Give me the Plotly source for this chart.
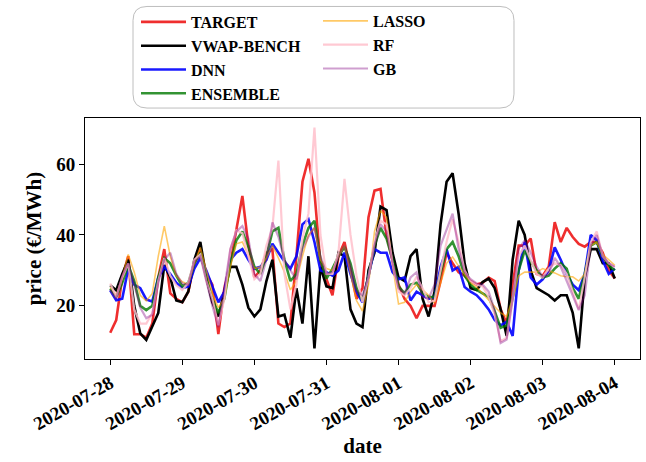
import plotly.graph_objects as go
import pandas as pd

# time grid (2-hourly) from 2020-07-28 00:00 to 2020-08-04 00:00
hours = list(range(0, 169, 2))
times = [pd.Timestamp("2020-07-28") + pd.Timedelta(hours=h) for h in hours]

target = [12.4, 16, 28, 34, 12, 12, 11, 15, 28, 36, 23.5, 22, 21, 24, 32, 36, 29, 26, 12, 25,
          32, 41, 51, 37, 28, 30, 35, 36, 15, 14, 15, 34, 55, 61.5, 52, 32, 27.5, 23, 34, 38,
          30, 22, 25, 45, 52.5, 53, 40, 33, 26, 22, 20, 16.5, 20, 20, 20, 27, 35, 32, 29.5, 28.5,
          27, 26, 26.5, 28, 27, 19, 15, 26, 37, 37, 39, 29, 28.5, 31, 43.6, 38, 42, 39.4, 37.5, 36.7,
          38, 38, 35, 30, 27.7]
vwap = [25.8, 24.4, 29, 33, 20, 12.2, 10.4, 14, 18, 31.5, 28, 21.5, 21, 24, 33, 38, 28, 21, 17, 24,
        31, 31, 26, 19.5, 17, 19, 27, 33, 17, 17.5, 11, 25, 15, 34, 8, 31, 25.5, 25, 35, 34,
        19, 15, 14, 30, 35, 48, 47, 35, 28, 27, 34, 36, 22, 17, 24, 43, 55, 57.4, 46, 32,
        25, 24.5, 26.7, 27.7, 25, 19, 11.5, 33, 44, 40, 30, 25, 24, 23, 21.5, 23, 23, 18, 8, 28,
        36, 36, 32, 32, 27.7]
dnn = [24.4, 21.6, 22, 30.5, 26, 25, 21.8, 21.2, 28, 31, 29, 26.5, 25, 25.5, 30.5, 33.5, 30, 25.5, 21, 24,
       33, 35, 36, 33, 30.5, 31, 33, 37.5, 35, 32.5, 30.5, 34, 43, 44.5, 38, 30, 29.5, 28.5, 30, 35,
       29, 24, 21, 29, 36, 35, 35, 29.5, 27.5, 28, 21.5, 24, 23, 22, 22.5, 31, 36, 30, 31, 25.3,
       24, 23, 21.2, 19, 16, 14.5, 15.5, 11.5, 30, 38, 28, 26, 27.5, 30, 36.5, 33, 29, 26, 24.4, 29,
       40, 38.5, 32.8, 29, 30.5]
ensemble = [24.9, 22.5, 26.5, 31.5, 27, 20, 18.8, 20, 28, 33.5, 32, 28.5, 25.5, 26.5, 32, 35, 28, 22, 18, 22,
            32, 38.5, 41, 36.6, 31, 29, 34, 41, 42, 33, 27, 29, 37, 42, 44, 33, 27.7, 30.5, 34, 36.6,
            32, 25, 21.5, 28.5, 37, 42, 39, 33, 25.5, 23.5, 26, 26.5, 23.5, 22.5, 22.5, 29, 36, 38, 34, 28.5,
            26, 24.5, 23.5, 22.5, 18.5, 13.8, 14.5, 22, 30, 35.6, 32.5, 30, 28, 28.5, 30.5, 32, 30.5, 25, 22, 29,
            37, 38, 34, 31.5, 30]
lasso = [25.3, 23, 28, 34.5, 29.5, 23, 21.4, 23.5, 34, 42.5, 34, 28.5, 26.8, 26, 32, 36.5, 30, 23.5, 19.5, 22,
         31, 37.5, 38, 34, 30.5, 31, 33.5, 37, 33.5, 29.5, 24.5, 27, 34, 40, 42, 33, 30.5, 30, 34, 37,
         29, 21.5, 18.5, 26, 41, 46.9, 45, 31.5, 20.5, 21, 24, 26, 24.5, 23, 20.8, 26.5, 32, 33.8, 31.2, 29,
         26.5, 25.3, 23.5, 21.8, 20, 18, 17, 22, 28.5, 29.5, 29.5, 29.5, 30.5, 30, 29.3, 28.5, 28.2, 28.2, 27, 29,
         37, 38, 34.5, 33, 31.4]
rf = [26.3, 22.5, 28, 32, 19, 15, 15, 18, 27, 33.5, 28.5, 25.8, 24.5, 26.5, 33, 34.5, 27, 22, 14.5, 22,
      36, 41.3, 40.5, 34, 27.5, 29, 37, 42, 61, 29, 19, 26, 39, 46, 70.3, 40, 29, 29, 35, 55.8,
      40, 28.5, 21, 28, 38, 44, 43, 32, 24, 23, 25, 28.2, 25, 21, 21.5, 30, 38, 44.5, 38, 30,
      27, 26, 25.5, 22.5, 17.5, 10, 11, 22, 34, 37, 33, 29, 28, 30.5, 32, 31.5, 29, 24, 19, 28,
      38, 41, 34, 32, 31]
gb = [24.4, 22, 28.5, 32, 26, 19.5, 16.5, 17.5, 26.5, 33, 35, 29, 26.3, 26, 32.5, 34, 27, 20, 14, 25,
      36, 41, 42.5, 39, 29, 27, 33, 43.5, 39.5, 33, 30, 27.5, 36, 39.5, 42, 34, 29, 29.5, 33.8, 37,
      31, 24, 23, 28, 37, 43, 41, 32, 25, 23.5, 28, 29.5, 22.5, 22, 26, 37, 41.5, 46, 36, 29.5,
      27.5, 26.3, 26, 24, 18.8, 9.5, 10.5, 22, 36, 38.5, 35, 31, 28.2, 29, 33.5, 31, 27, 23, 18.8, 23,
      37, 40, 34, 32, 31]

y_ticks = [20, 40, 60]
x_ticks = ["2020-07-28", "2020-07-29", "2020-07-30", "2020-07-31",
           "2020-08-01", "2020-08-02", "2020-08-03", "2020-08-04"]

series = [
    ("TARGET", target, "rgba(235,0,0,0.82)", 2.6, "legend"),
    ("VWAP-BENCH", vwap, "rgba(0,0,0,1)", 2.6, "legend"),
    ("DNN", dnn, "rgba(0,0,255,0.9)", 2.6, "legend"),
    ("ENSEMBLE", ensemble, "rgba(0,120,0,0.8)", 2.6, "legend"),
    ("LASSO", lasso, "rgba(255,165,0,0.6)", 1.6, "legend2"),
    ("RF", rf, "rgba(255,192,203,0.85)", 2.2, "legend2"),
    ("GB", gb, "rgba(128,0,128,0.38)", 2.2, "legend2"),
]

FONT = "Liberation Serif"
fig = go.Figure()
for name, vals, col, w, lg in series:
    fig.add_trace(go.Scatter(x=times, y=vals, mode="lines", name=name,
                             line=dict(color=col, width=w), legend=lg,
                             legendgroup=name))

W, H = 646, 462
L, R, T, B = 85, 6, 117, 103
pw, ph = W - L - R, H - T - B

def px2paper(x, y):
    return (x - L) / pw, (H - B - y) / ph

# rounded legend frame
x0, y0, x1, y1, rr = 133, 5, 514, 107, 14
def P(x, y):
    a, b = px2paper(x, y)
    return f"{a:.5f},{b:.5f}"
path = (f"M {P(x0+rr,y0)} L {P(x1-rr,y0)} Q {P(x1,y0)} {P(x1,y0+rr)} "
        f"L {P(x1,y1-rr)} Q {P(x1,y1)} {P(x1-rr,y1)} L {P(x0+rr,y1)} "
        f"Q {P(x0,y1)} {P(x0,y1-rr)} L {P(x0,y0+rr)} Q {P(x0,y0)} {P(x0+rr,y0)} Z")

lx1, ly1 = px2paper(136, 5)
lx2, ly2 = px2paper(318, 4)
legfont = dict(family=FONT, size=16, color="black", weight="bold")

fig.update_layout(
    width=W, height=H,
    margin=dict(l=L, r=R, t=T, b=B),
    paper_bgcolor="white", plot_bgcolor="white",
    font=dict(family=FONT, color="black"),
    shapes=[dict(type="path", path=path, xref="paper", yref="paper",
                 line=dict(color="rgba(190,190,190,1)", width=1),
                 fillcolor="rgba(255,255,255,0.8)", layer="above")],
    legend=dict(x=lx1, y=ly1, xanchor="left", yanchor="top",
                bgcolor="rgba(0,0,0,0)", font=legfont, tracegroupgap=0,
                itemwidth=45),
    legend2=dict(x=lx2, y=ly2, xanchor="left", yanchor="top",
                 bgcolor="rgba(0,0,0,0)", font=legfont, tracegroupgap=0,
                 itemwidth=45),
    xaxis=dict(
        range=["2020-07-27 15:36", "2020-08-04 08:24"],
        tickvals=x_ticks, ticktext=x_ticks, tickangle=-30,
        ticks="outside", ticklen=5, tickcolor="black",
        tickfont=dict(family=FONT, size=19, color="black", weight="bold"),
        showgrid=False, zeroline=False,
        showline=True, linecolor="black", linewidth=1, mirror=True,
        title=dict(text="date", font=dict(family=FONT, size=21, weight="bold"),
                   standoff=2),
    ),
    yaxis=dict(
        range=[5.0, 73.0], tickvals=y_ticks,
        ticks="outside", ticklen=5, tickcolor="black",
        tickfont=dict(family=FONT, size=19, color="black", weight="bold"),
        showgrid=False, zeroline=False,
        showline=True, linecolor="black", linewidth=1, mirror=True,
        title=dict(text="price (€/MWh)", font=dict(family=FONT, size=21, weight="bold"),
                   standoff=8),
    ),
)

fig.write_html("out.html")
